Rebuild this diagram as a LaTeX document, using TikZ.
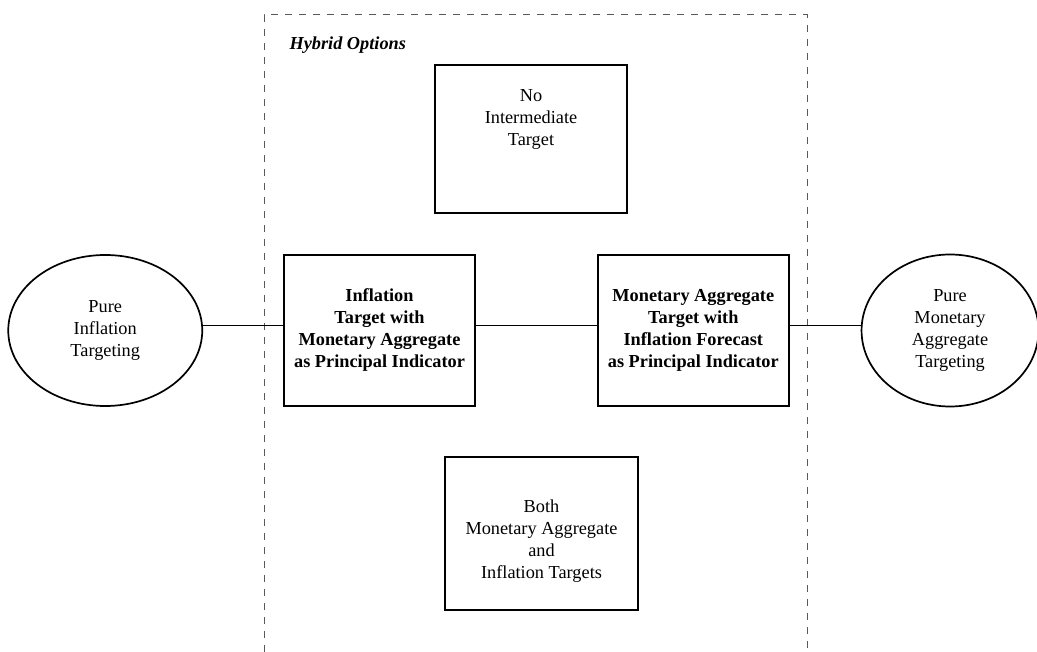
\documentclass[tikz,border=0pt]{standalone}
\usepackage{fontspec}
\setmainfont{Liberation Serif}
\usetikzlibrary{positioning,shapes.geometric}

\begin{document}
\begin{tikzpicture}[
        x=1pt, y=-1pt,
        node distance=121pt,
        box/.style={rectangle, draw, line width=1.8pt, minimum width=191pt, minimum height=151pt, inner sep=0pt, align=center, font=\fontsize{18.3}{22}\selectfont},
        keybox/.style={box, font=\fontsize{18.3}{22}\selectfont\bfseries},
        boxtext/.style={align=center, inner sep=0pt, font=\fontsize{18.3}{22}\selectfont},
        pure/.style={ellipse, draw, line width=1.7pt, inner sep=0pt, align=center, font=\fontsize{18.3}{22}\selectfont},
        link/.style={line width=1.5pt}
    ]
        \useasboundingbox (0,0) rectangle (1037,652);
        % hybrid region, open at the bottom
        \draw[black!65, line width=1pt, dash pattern=on 7pt off 7pt] (264,652) -- (264,15) -- (807,15) -- (807,652);
        \node[anchor=west, font=\fontsize{18.3}{22}\selectfont\bfseries\itshape] (hybrid) at (286,45) {Hybrid Options};

        \node[keybox] (inftarget) at (379.5,330.5) {Inflation\\Target with\\Monetary Aggregate\\as Principal Indicator};
        \node[keybox, right=of inftarget] (montarget) {Monetary Aggregate\\Target with\\Inflation Forecast\\as Principal Indicator};
        \node[pure, minimum width=194pt, minimum height=151pt, left=80pt of inftarget] (pureinf) {Pure\\Inflation\\Targeting};
        \node[pure, minimum width=177pt, minimum height=152pt, right=71pt of montarget] (puremon) {Pure\\Monetary\\Aggregate\\Targeting};

        \node[box, minimum width=192pt, minimum height=148pt] (nointer) at (531,139) {};
        \node[boxtext, above=20pt of nointer.center, anchor=center] (nointertext) {No\\Intermediate\\Target};
        \node[box, minimum width=193pt, minimum height=153pt] (both) at (541.5,533.5) {};
        \node[boxtext, below=8pt of both.center, anchor=center] (bothtext) {Both\\Monetary Aggregate\\and\\ Inflation Targets};

        \draw[link] ([yshift=5pt]pureinf.east) -- ([yshift=5pt]inftarget.west);
        \draw[link] ([yshift=5pt]inftarget.east) -- ([yshift=5pt]montarget.west);
        \draw[link] ([yshift=5pt]montarget.east) -- ([yshift=5pt]puremon.west);
    \end{tikzpicture}
\end{document}
